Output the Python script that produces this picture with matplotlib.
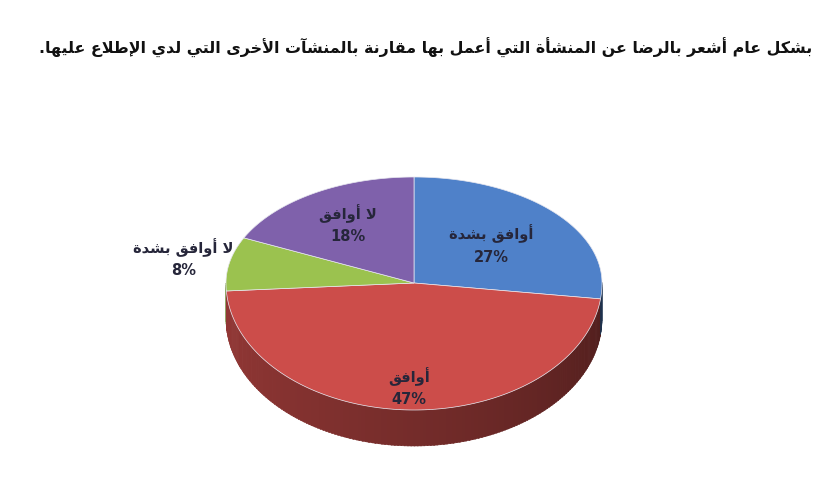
import numpy as np
import matplotlib
matplotlib.use('Agg')
import matplotlib.pyplot as plt
from matplotlib.patches import Polygon

title = 'بشكل عام أشعر بالرضا عن المنشأة التي أعمل بها مقارنة بالمنشآت الأخرى التي لدي الإطلاع عليها.'
labels = ['أوافق بشدة', 'أوافق', 'لا أوافق بشدة', 'لا أوافق']
values = [27, 47, 8, 18]
colors = ['#4f81c9', '#cc4d4a', '#9bc24f', '#7f61ab']
label_r = [0.55, 0.82, 1.25, 0.66]

# arabic presentation forms: isolated code, dual joining?
FORMS = {
    'ا': (0xFE8D, False), 'أ': (0xFE83, False), 'إ': (0xFE87, False), 'آ': (0xFE81, False),
    'ب': (0xFE8F, True), 'ة': (0xFE93, False), 'ت': (0xFE95, True), 'خ': (0xFEA5, True),
    'د': (0xFEA9, False), 'ر': (0xFEAD, False), 'ش': (0xFEB5, True), 'ض': (0xFEBD, True),
    'ط': (0xFEC1, True), 'ع': (0xFEC9, True), 'ف': (0xFED1, True), 'ق': (0xFED5, True),
    'ك': (0xFED9, True), 'ل': (0xFEDD, True), 'م': (0xFEE1, True), 'ن': (0xFEE5, True),
    'ه': (0xFEE9, True), 'و': (0xFEED, False), 'ى': (0xFEEF, False), 'ي': (0xFEF1, True),
}
LAM_ALEF = {'آ': 0xFEF5, 'أ': 0xFEF7, 'إ': 0xFEF9, 'ا': 0xFEFB}


def shape(text):
    toks = []
    i = 0
    while i < len(text):
        c = text[i]
        if c == 'ل' and i + 1 < len(text) and text[i + 1] in LAM_ALEF:
            toks.append(('LA', text[i + 1]))
            i += 2
        else:
            toks.append(('C', c))
            i += 1

    def info(t):
        if t[0] == 'LA':
            return (LAM_ALEF[t[1]], False)
        return FORMS.get(t[1])

    out = []
    for k, t in enumerate(toks):
        inf = info(t)
        if inf is None:
            out.append(t[1])
            continue
        prev = info(toks[k - 1]) if k > 0 else None
        nxt = info(toks[k + 1]) if k + 1 < len(toks) else None
        jp = prev is not None and prev[1]
        jn = inf[1] and nxt is not None
        if jp and jn:
            code = inf[0] + 3
        elif jp:
            code = inf[0] + 1
        elif jn:
            code = inf[0] + 2
        else:
            code = inf[0]
        out.append(chr(code))
    return ''.join(reversed(out))


plt.rcParams['font.family'] = ['DejaVu Sans']

fig = plt.figure(figsize=(8.3, 4.92), dpi=100)
ax = fig.add_axes([0, 0, 1, 1])
ax.set_xlim(0, 830)
ax.set_ylim(492, 0)
ax.axis('off')

cx, cy = 414, 283
rx, ry_top, ry_bot = 188, 106, 127
depth = 36


def pt(a):
    a = np.radians(a)
    s = np.sin(a)
    ry = np.where(s > 0, ry_top, ry_bot)
    return cx + rx * np.cos(a), cy - ry * s


fracs = np.array(values) / sum(values)
ends = 90 - 360 * np.cumsum(fracs)
starts = np.concatenate([[90], ends[:-1]])


def rgb(h):
    h = h.lstrip('#')
    return np.array([int(h[i:i + 2], 16) for i in (0, 2, 4)]) / 255.0


# side wall (front half), shaded strips
steps = np.linspace(-180, 0, 181)
for a0, a1 in zip(steps[:-1], steps[1:]):
    am = (a0 + a1) / 2
    idx = 0
    for k, (s, e) in enumerate(zip(starts, ends)):
        aa = am
        while aa > s:
            aa -= 360
        while aa <= e:
            aa += 360
        if e < aa <= s:
            idx = k
            break
    t = (am + 180) / 180
    f = 0.72 - 0.34 * t ** 1.2
    c = np.clip(rgb(colors[idx]) * f, 0, 1)
    xa, ya = pt(np.array([a0, a1 + 0.3]))
    poly = [(xa[0], ya[0]), (xa[1], ya[1]), (xa[1], ya[1] + depth), (xa[0], ya[0] + depth)]
    ax.add_patch(Polygon(poly, closed=True, facecolor=c, edgecolor=c, lw=0.4))

# top face
for s, e, col in zip(starts, ends, colors):
    ang = np.linspace(s, e, 200)
    xs, ys = pt(ang)
    poly = np.column_stack([np.concatenate([[cx], xs]), np.concatenate([[cy], ys])])
    ax.add_patch(Polygon(poly, closed=True, facecolor=col, edgecolor='#e8e8f0', lw=0.5))

# labels
for lab, v, s, e, r in zip(labels, values, starts, ends, label_r):
    m = (s + e) / 2
    a = np.radians(m)
    ry = ry_top if np.sin(a) > 0 else ry_bot
    x = cx + r * rx * np.cos(a)
    y = cy - r * ry * np.sin(a)
    ax.text(x, y, shape(lab) + '\n' + f'{v}%', ha='center', va='center',
            fontsize=10.5, fontweight='bold', color='#26263a', linespacing=1.55)

tt = ax.text(812, 48, shape(title), ha='right', va='center', fontsize=13,
             fontweight='bold', color='#111111')
# shrink title to span the same width as in the reference
fig.canvas.draw()
w = tt.get_window_extent().width
tt.set_fontsize(13 * 772 / w)

fig.savefig('out.png', dpi=100)
